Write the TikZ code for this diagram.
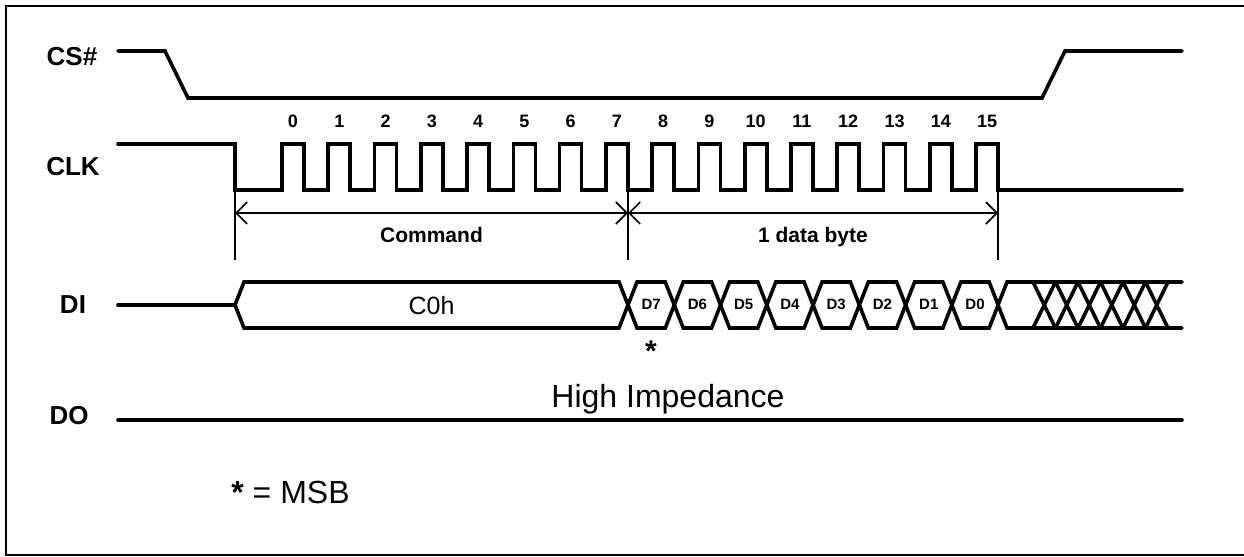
\documentclass[tikz,border=0pt]{standalone}
\usepackage{fontspec}
\setmainfont{Liberation Sans}
\usetikzlibrary{arrows.meta}
\begin{document}
\begin{tikzpicture}[x=0.5pt,y=-0.5pt]
	% Styles (MODIFIABLES)
	\tikzstyle{cadre}=[line width=1.4pt]
	\tikzstyle{signal}=[line width=1.8pt,line cap=round]
	\tikzstyle{repere}=[line width=0.8pt]
	\tikzstyle{cote}=[line width=0.8pt,{Straight Barb[length=5.5pt,width=11pt]}-{Straight Barb[length=5.5pt,width=11pt]}]
	\tikzstyle{nom}=[anchor=base,inner sep=0pt,font=\bfseries\fontsize{13}{15}\selectfont]
	\tikzstyle{numero}=[anchor=base,inner sep=0pt,font=\bfseries\fontsize{9}{11}\selectfont]
	\tikzstyle{champ}=[anchor=base,inner sep=0pt,font=\bfseries\fontsize{10.5}{12}\selectfont]
	\tikzstyle{bit}=[anchor=base,inner sep=0pt,font=\bfseries\fontsize{7.5}{9}\selectfont]
	\tikzstyle{valeur}=[anchor=base,inner sep=0pt,font=\fontsize{12.5}{15}\selectfont]
	\tikzstyle{commentaire}=[anchor=base,inner sep=0pt,font=\fontsize{16}{19}\selectfont]
	% Dimensions (MODIFIABLES)
	\def\Periode{46.27}
	\def\Impulsion{22}
	\def\Demi{9}
	\def\XDebut{118}
	\def\XFin{1182}
	% Niveaux (NON MODIFIABLES)
	\def\CSHaut{51}
	\def\CSBas{98}
	\def\ClkHaut{144}
	\def\ClkBas{190}
	\def\BusHaut{282}
	\def\BusMilieu{305}
	\def\BusBas{328}
	\def\NiveauDO{420}
	%
	\useasboundingbox (0,0) rectangle (1244,557);
	\draw[cadre] (1244,6) -- (6,6) -- (6,555) -- (1244,555);
	% Noms des signaux
	\node[nom] (cs) at (72,65) {CS\#};
	\node[nom] (clk) at (73,175) {CLK};
	\node[nom] (di) at (73,313) {DI};
	\node[nom] (do) at (69,424) {DO};
	% CS#
	\draw[signal] (\XDebut,\CSHaut) -- (165,\CSHaut) -- (188,\CSBas) -- (1042,\CSBas) -- (1065,\CSHaut) -- (\XFin,\CSHaut);
	% CLK
	\draw[signal] (\XDebut,\ClkHaut) -- (235,\ClkHaut) -- (235,\ClkBas)
		\foreach \k in {0,...,15}{ -- ({282+\Periode*\k},\ClkBas) -- ({282+\Periode*\k},\ClkHaut)
		-- ({282+\Impulsion+\Periode*\k},\ClkHaut) -- ({282+\Impulsion+\Periode*\k},\ClkBas)} -- (\XFin,\ClkBas);
	\foreach \k in {0,...,15}
		\node[numero] (n\k) at ({293+\Periode*\k},127) {\k};
	% Cotes
	\coordinate (tA) at (235,260);
	\coordinate (tB) at (628,260);
	\coordinate (tC) at (998,260);
	\draw[repere] (235,\ClkBas) -- (tA);
	\draw[repere] (628,\ClkBas) -- (tB);
	\draw[repere] (998,\ClkBas) -- (tC);
	\coordinate (cA) at (235,213);
	\coordinate (cB) at (628,213);
	\coordinate (cC) at (998,213);
	\draw[cote] (cA) -- (cB);
	\draw[cote] (cB) -- (cC);
	\node[champ] (commande) at (431.5,242) {Command};
	\node[champ] (octet) at (813,242) {1 data byte};
	% DI
	\draw[signal] (\XDebut,\BusMilieu) -- (235,\BusMilieu);
	\draw[signal] (235,\BusMilieu) -- (244,\BusHaut) -- ({628-\Demi},\BusHaut) -- (628,\BusMilieu)
		-- ({628-\Demi},\BusBas) -- (244,\BusBas) -- cycle;
	\node[valeur] (cmd) at (431.5,314) {C0h};
	\foreach \k in {0,...,7}{
		\pgfmathsetmacro{\a}{628+\Periode*\k}
		\pgfmathsetmacro{\b}{628+\Periode*(\k+1)}
		\pgfmathtruncatemacro{\n}{7-\k}
		\draw[signal] (\a,\BusMilieu) -- ({\a+\Demi},\BusHaut) -- ({\b-\Demi},\BusHaut) -- (\b,\BusMilieu)
			-- ({\b-\Demi},\BusBas) -- ({\a+\Demi},\BusBas) -- cycle;
		\node[bit] (d\n) at ({(\a+\b)/2},309.5) {D\n};
	}
	\draw[signal] (\XFin,\BusHaut) -- ({998+\Demi},\BusHaut) -- (998,\BusMilieu) -- ({998+\Demi},\BusBas) -- (\XFin,\BusBas);
	\foreach \i in {0,...,5}{
		\draw[signal] ({1033+22.5*\i},\BusHaut) -- ({1033+22.5*(\i+1)},\BusBas);
		\draw[signal] ({1033+22.5*\i},\BusBas) -- ({1033+22.5*(\i+1)},\BusHaut);
	}
	\node[commentaire,font=\bfseries\fontsize{15}{17}\selectfont] (etoile) at (651,361) {*};
	% DO
	\draw[signal] (\XDebut,\NiveauDO) -- (\XFin,\NiveauDO);
	\node[commentaire] (hz) at (668,407) {High Impedance};
	\node[commentaire] (legende) at (290.5,503) {\textbf{*} = MSB};
\end{tikzpicture}
\end{document}
